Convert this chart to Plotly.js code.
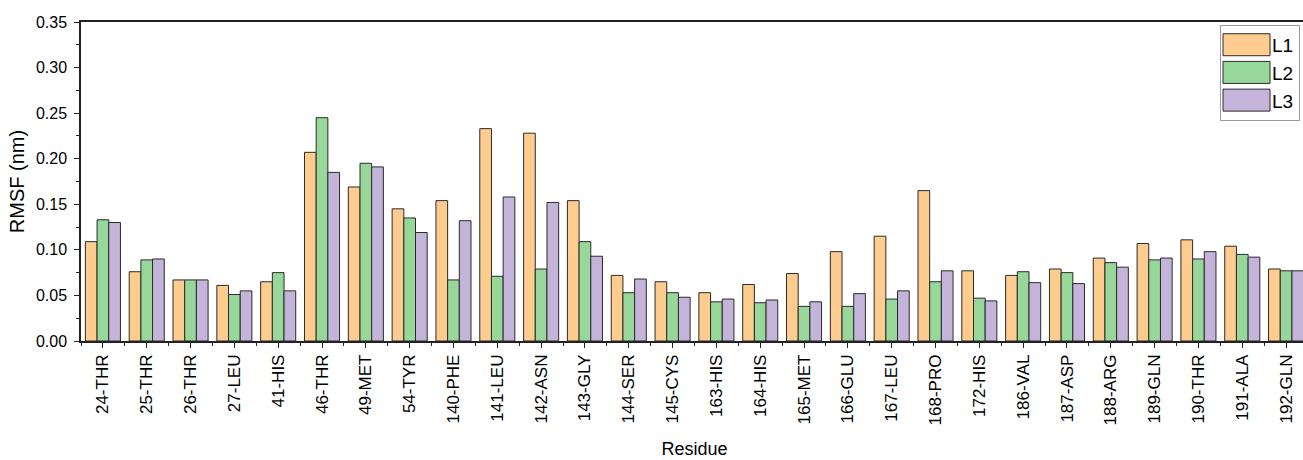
<!DOCTYPE html>
<html>
<head>
<meta charset="utf-8">
<script src="https://cdn.plot.ly/plotly-3.0.1.min.js"></script>
<style>
html, body { margin: 0; padding: 0; overflow: hidden; background: #fff; }
#chart { width: 1310px; height: 460px; }
</style>
</head>
<body>
<div id="chart"></div>
<script>
const residues = ["24-THR","25-THR","26-THR","27-LEU","41-HIS","46-THR","49-MET","54-TYR",
  "140-PHE","141-LEU","142-ASN","143-GLY","144-SER","145-CYS","163-HIS","164-HIS","165-MET",
  "166-GLU","167-LEU","168-PRO","172-HIS","186-VAL","187-ASP","188-ARG","189-GLN","190-THR",
  "191-ALA","192-GLN"];
const L1 = [0.109,0.076,0.067,0.061,0.065,0.207,0.169,0.145,0.154,0.233,0.228,0.154,0.072,0.065,
  0.053,0.062,0.074,0.098,0.115,0.165,0.077,0.072,0.079,0.091,0.107,0.111,0.104,0.079];
const L2 = [0.133,0.089,0.067,0.051,0.075,0.245,0.195,0.135,0.067,0.071,0.079,0.109,0.053,0.053,
  0.043,0.042,0.038,0.038,0.046,0.065,0.047,0.076,0.075,0.086,0.089,0.090,0.095,0.077];
const L3 = [0.130,0.090,0.067,0.055,0.055,0.185,0.191,0.119,0.132,0.158,0.152,0.093,0.068,0.048,
  0.046,0.045,0.043,0.052,0.055,0.077,0.044,0.064,0.063,0.081,0.091,0.098,0.092,0.077];
const seriesNames = ["L1","L2","L3"];
const seriesColors = ["#FFCC8F","#98D79A","#C5B4DA"];

const font = "Liberation Sans, Arial, sans-serif";
const data = [L1, L2, L3].map((vals, i) => ({
  type: "bar",
  name: seriesNames[i],
  x: residues,
  y: vals,
  marker: { color: seriesColors[i], line: { color: "#2a2a2a", width: 1 } },
  hoverinfo: "x+y+name"
}));

// minor ticks sit on the boundaries between residue groups
const boundaries = [-0.5].concat(residues.map((_, i) => i + 0.5));

const layout = {
  width: 1310,
  height: 460,
  margin: { l: 81, r: 2, t: 22, b: 119 },
  paper_bgcolor: "#ffffff",
  plot_bgcolor: "#ffffff",
  font: { family: font, color: "#000", size: 16 },
  barmode: "group",
  bargap: 0.2,
  bargroupgap: 0,
  showlegend: true,
  legend: {
    x: 0.9283, xanchor: "left",
    y: 0.991, yanchor: "top",
    bgcolor: "#ffffff",
    bordercolor: "#9a9a9a",
    borderwidth: 1,
    itemwidth: 41,
    tracegroupgap: 0,
    font: { family: font, size: 19, color: "#000" }
  },
  xaxis: {
    type: "category",
    range: [-0.5, 27.5],
    showline: true, linecolor: "#222", linewidth: 1.5, mirror: true,
    ticks: "outside", ticklen: 5, tickwidth: 1.3, tickcolor: "#222",
    tickangle: -90,
    tickfont: { family: font, size: 17, color: "#000" },
    showgrid: false, zeroline: false,
    minor: { ticks: "outside", ticklen: 3, tickwidth: 1.2, tickcolor: "#222", tickmode: "array",
             tickvals: boundaries },
    title: { text: "Residue", font: { family: font, size: 18, color: "#000" }, standoff: 18 }
  },
  yaxis: {
    range: [0, 0.35],
    dtick: 0.05, tick0: 0,
    tickformat: ".2f",
    showline: true, linecolor: "#222", linewidth: 1.5, mirror: true,
    ticks: "outside", ticklen: 5, tickwidth: 1.3, tickcolor: "#222",
    ticklabelstandoff: 4,
    tickfont: { family: font, size: 16, color: "#000" },
    minor: { ticks: "outside", ticklen: 3, tickwidth: 1.2, tickcolor: "#222", dtick: 0.025 },
    showgrid: false, zeroline: false,
    title: { text: "RMSF (nm)", font: { family: font, size: 20, color: "#000" }, standoff: 6 }
  }
};

const gd = document.getElementById("chart");
function fixLegend() {
  gd.querySelectorAll(".legend .legendpoints path").forEach(p => {
    p.setAttribute("d", "M23.5,11H-23.5V-11H23.5Z");
  });
}
Plotly.newPlot(gd, data, layout, { displayModeBar: false }).then(() => {
  fixLegend();
  setTimeout(fixLegend, 0);
  gd.on("plotly_afterplot", fixLegend);
});
</script>
</body>
</html>
